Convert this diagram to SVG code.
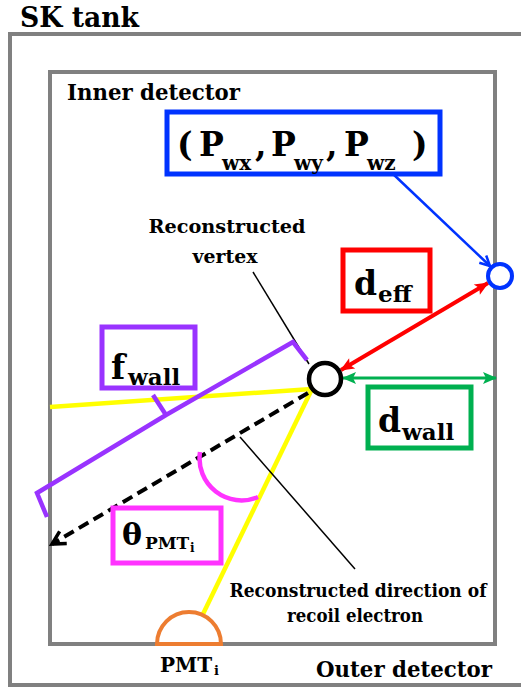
<svg xmlns="http://www.w3.org/2000/svg" width="521" height="690" viewBox="0 0 521 690">
<style>
text{font-family:'DejaVu Serif','Liberation Serif','Times New Roman',serif;font-weight:700;fill:#000}
.big{font-size:33px}
.sub{font-size:23px}
.bsub{font-size:20px}
.lbl{font-size:19px}
.box{fill:#fff;stroke-width:5}
.wall{fill:none;stroke:#808080;stroke-width:4}
</style>
<defs>
<marker id="mBlue" markerUnits="userSpaceOnUse" viewBox="0 0 14 14" refX="12" refY="7" markerWidth="14" markerHeight="14" orient="auto"><path d="M2,2 L12,7 L2,12" fill="none" stroke="#0033FF" stroke-width="2.5"/></marker>
<marker id="mRed" markerUnits="userSpaceOnUse" viewBox="0 0 16 16" refX="14" refY="8" markerWidth="16" markerHeight="16" orient="auto-start-reverse"><path d="M1,2 L15,8 L1,14 L4,8 Z" fill="#FF0000"/></marker>
<marker id="mGreen" markerUnits="userSpaceOnUse" viewBox="0 0 16 16" refX="14" refY="8" markerWidth="16" markerHeight="16" orient="auto-start-reverse"><path d="M1,2 L15,8 L1,14 L4,8 Z" fill="#00B050"/></marker>
<marker id="mBlack" markerUnits="userSpaceOnUse" viewBox="0 0 20 20" refX="17" refY="10" markerWidth="20" markerHeight="20" orient="auto"><path d="M4,3 L17,10 L4,17" fill="none" stroke="#000" stroke-width="3.5"/></marker>
</defs>
<rect width="521" height="690" fill="#fff"/>

<g id="sk-tank">
<rect class="wall" x="10" y="34" width="530" height="651"/>
<text x="20" y="27" style="font-size:28px" textLength="119" lengthAdjust="spacingAndGlyphs">SK tank</text>
<text x="316" y="677" style="font-size:23px" textLength="176" lengthAdjust="spacingAndGlyphs">Outer detector</text>
</g>
<g id="inner-detector">
<rect class="wall" x="50" y="72" width="445" height="572"/>
<text x="67" y="100" style="font-size:23px" textLength="173" lengthAdjust="spacingAndGlyphs">Inner detector</text>
</g>

<g id="connectors">
<line x1="392" y1="173" x2="490" y2="266" stroke="#0033FF" stroke-width="2.5" marker-end="url(#mBlue)"/>
<line x1="341" y1="370" x2="488" y2="283" stroke="#FF0000" stroke-width="4" marker-start="url(#mRed)" marker-end="url(#mRed)"/>
<line x1="343" y1="378" x2="496" y2="378" stroke="#00B050" stroke-width="3" marker-start="url(#mGreen)" marker-end="url(#mGreen)"/>
<line x1="50" y1="407" x2="312" y2="389" stroke="#FFFF00" stroke-width="4.5"/>
<line x1="312" y1="389" x2="203" y2="614" stroke="#FFFF00" stroke-width="4.5"/>
<line x1="308" y1="393" x2="52" y2="544" stroke="#000" stroke-width="4" stroke-dasharray="11 6" marker-end="url(#mBlack)"/>
<line x1="253" y1="272" x2="309" y2="364" stroke="#000" stroke-width="1.5"/>
<line x1="240" y1="437" x2="355" y2="569" stroke="#000" stroke-width="1.5"/>
<polyline points="307,360 293,342 166,415 37,493 47,517" fill="none" stroke="#9933FF" stroke-width="4.5" stroke-linejoin="miter"/>
<line x1="166" y1="415" x2="153" y2="395" stroke="#9933FF" stroke-width="4.5"/>
<path d="M200,452 A42,42 0 0 0 258,497" fill="none" stroke="#FF33FF" stroke-width="4.5"/>
</g>

<g id="pmt-position">
<rect class="box" x="167" y="112" width="273" height="62" stroke="#0033FF"/>
<text class="big" y="156"><tspan x="177">(</tspan><tspan x="199">P</tspan><tspan class="bsub" x="222" y="170">wx</tspan><tspan x="255" y="156">,</tspan><tspan x="271">P</tspan><tspan class="bsub" x="294" y="170">wy</tspan><tspan x="326" y="156">,</tspan><tspan x="344">P</tspan><tspan class="bsub" x="367" y="170">wz</tspan><tspan x="412" y="156">)</tspan></text>
</g>
<g id="pmt-circle">
<circle cx="500" cy="276" r="12" fill="#fff" stroke="#0033FF" stroke-width="4"/>
</g>
<g id="d-eff">
<rect class="box" x="343" y="250" width="87" height="61" stroke="#FF0000"/>
<text class="big" x="354" y="295">d<tspan class="sub" x="378" y="302">eff</tspan></text>
</g>
<g id="d-wall">
<rect class="box" x="368" y="387" width="103" height="61" stroke="#00B050"/>
<text class="big" x="378" y="432">d<tspan class="sub" x="402" y="440">wall</tspan></text>
</g>
<g id="f-wall">
<rect class="box" x="102" y="327" width="93" height="61" stroke="#9933FF"/>
<text class="big" x="111" y="379">f<tspan class="sub" x="128" y="385">wall</tspan></text>
</g>
<g id="theta-pmt">
<rect class="box" x="113" y="508" width="108" height="55" stroke="#FF33FF"/>
<text x="122" y="545" style="font-size:30px">θ<tspan x="145" y="549" style="font-size:17px">PMT</tspan><tspan x="190" y="552" style="font-size:12px">i</tspan></text>
</g>
<g id="vertex">
<circle cx="325" cy="379" r="16" fill="#fff" stroke="#000" stroke-width="4.5"/>
<text class="lbl" x="227" y="233" text-anchor="middle" textLength="157" lengthAdjust="spacingAndGlyphs">Reconstructed</text>
<text class="lbl" x="225" y="263" text-anchor="middle" textLength="65" lengthAdjust="spacingAndGlyphs">vertex</text>
</g>
<g id="direction-label">
<text x="358" y="597" text-anchor="middle" style="font-size:19px" textLength="257" lengthAdjust="spacingAndGlyphs">Reconstructed direction of</text>
<text x="355" y="622" text-anchor="middle" style="font-size:19px" textLength="136" lengthAdjust="spacingAndGlyphs">recoil electron</text>
</g>
<g id="pmt">
<path d="M157,644 A32,32 0 0 1 221,644 Z" fill="#fff" stroke="#ED7D31" stroke-width="4"/>
<text x="160" y="672" style="font-size:20px">PMT<tspan x="214" y="675" style="font-size:13px">i</tspan></text>
</g>
</svg>
